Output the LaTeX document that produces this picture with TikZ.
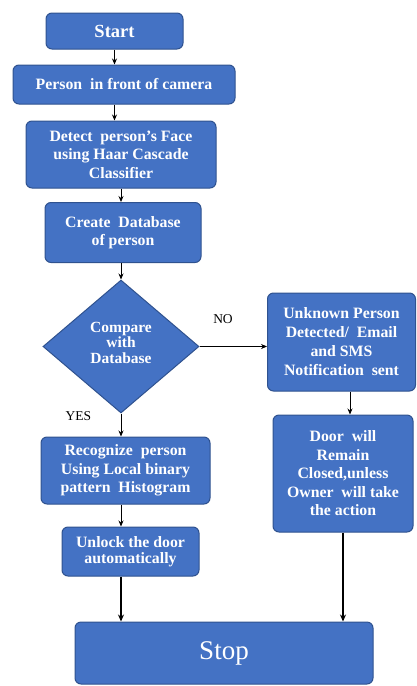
\documentclass[tikz,border=0pt]{standalone}
\usepackage{fontspec}
\setmainfont{Liberation Serif}
\usetikzlibrary{shapes.geometric,arrows.meta}
\definecolor{boxfill}{HTML}{4472C4}
\definecolor{boxline}{HTML}{2F528F}
\begin{document}
\begin{tikzpicture}[x=1pt,y=-1pt,
  box/.style={rectangle,rounded corners=6pt,fill=boxfill,draw=boxline,line width=1pt,
    text=white,font=\fontsize{15.8}{18.5}\selectfont\bfseries,align=center,inner sep=0pt},
  dia/.style={diamond,fill=boxfill,draw=boxline,line width=1pt,text=white,
    font=\fontsize{15.5}{15.5}\selectfont\bfseries,align=center,inner sep=0pt},
  arr/.style={-{Stealth[length=6pt,width=5pt]},line width=0.8pt,black},
  thickarr/.style={-{Stealth[length=7pt,width=6pt]},line width=1.6pt,black},
  lbl/.style={font=\fontsize{13.5}{15}\selectfont,text=black}]
\useasboundingbox (0,0) rectangle (417,686);
\node[box,minimum width=137pt,minimum height=36pt,font=\fontsize{18.5}{20}\selectfont\bfseries] (start) at (114.5,31) {Start};
\node[box,minimum width=222pt,minimum height=39pt] (person) at (124,84.5) {Person\ \ in front of camera};
\node[box,minimum width=190pt,minimum height=67pt] (detect) at (121,154.5) {Detect\ \ person's Face\\using Haar Cascade\\Classifier};
\node[box,minimum width=156pt,minimum height=60pt] (create) at (123,232.5) {Create\ \ Database\\of person};
\node[dia,minimum width=156pt,minimum height=133pt] (cmp) at (121,346.5) {Compare\\with\\Database\\[-7.5pt]};
\node[box,minimum width=148pt,minimum height=98pt,font=\fontsize{15.8}{19}\selectfont\bfseries] (unk) at (341.5,342) {Unknown Person\\Detected/\ \ Email\\and SMS\\Notification\ \ sent};
\node[box,minimum width=140pt,minimum height=117pt] (door) at (343,473.5) {Door\ \ will\\Remain\\Closed,unless\\Owner\ \ will take\\the action};
\node[box,minimum width=169pt,minimum height=67pt] (rec) at (125.5,470.5) {Recognize\ \ person\\Using Local binary\\pattern\ \ Histogram};
\node[box,minimum width=137pt,minimum height=49pt,font=\fontsize{15.8}{15.5}\selectfont\bfseries] (unlock) at (130.5,551.5) {Unlock the door\\automatically};
\node[box,minimum width=298pt,minimum height=62pt,font=\fontsize{27}{30}\selectfont] (stop) at (224,653) {Stop};
\node[lbl] (no) at (223,319) {NO};
\node[lbl] (yes) at (78.5,416) {YES};
\draw[arr] (start.south -| start.south) -- (person.north -| start.south);
\draw[arr] (person.south -| start.south) -- (detect.north -| start.south);
\draw[arr] (detect.south -| cmp.north) -- (create.north -| cmp.north);
\draw[arr] (create.south -| cmp.north) -- (cmp.north);
\draw[arr] (cmp.east) -- (unk.west |- cmp.east);
\draw[arr] (cmp.south) -- (rec.north -| cmp.south);
\draw[arr] (rec.south -| cmp.south) -- (unlock.north -| cmp.south);
\draw[arr] (unk.south -| door.north) ++(7pt,0) coordinate (ua) -- (door.north -| ua);
\draw[thickarr] (unlock.south -| cmp.south) -- (stop.north -| cmp.south);
\draw[thickarr] (door.south) -- (stop.north -| door.south);
\end{tikzpicture}
\end{document}
